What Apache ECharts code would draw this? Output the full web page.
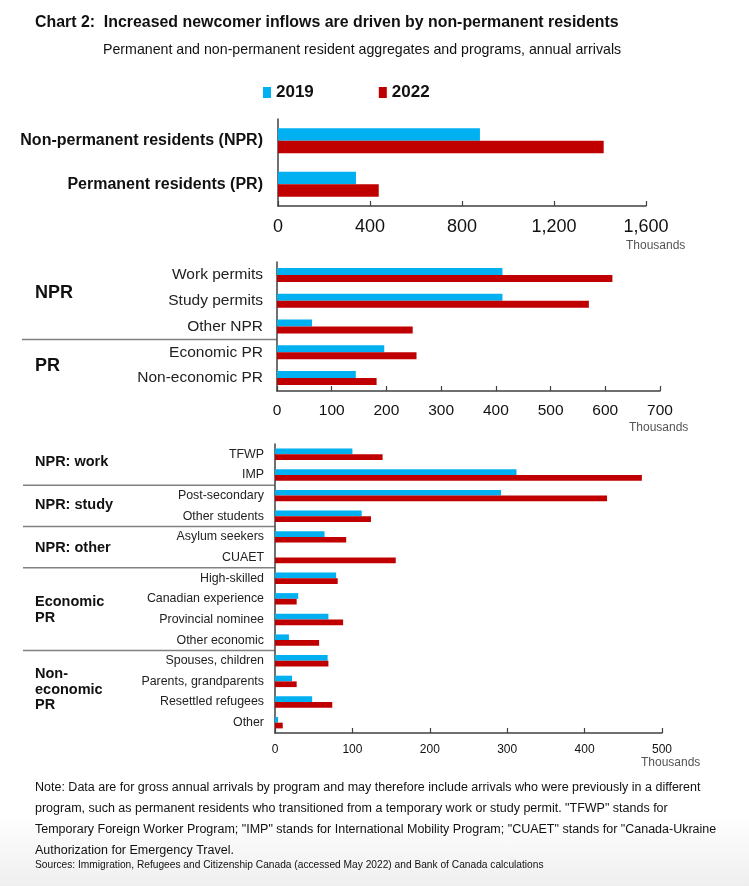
<!DOCTYPE html>
<html>
<head>
<meta charset="utf-8">
<script src="https://cdn.jsdelivr.net/npm/echarts@6/dist/echarts.min.js"></script>
<style>
  html, body { margin: 0; padding: 0; }
  body { width: 749px; height: 886px; background: linear-gradient(to bottom, #ffffff 0px, #ffffff 815px, #efefef 886px); }
  #chart { position: absolute; left: 0; top: 0; width: 749px; height: 886px; }
</style>
</head>
<body>
<div id="chart"></div>
<script>
// ---- Data (thousands of arrivals) ----
const seriesNames = ['2019', '2022'];

const topCategories = ['Non-permanent residents (NPR)', 'Permanent residents (PR)'];
const top2019 = [878, 339];
const top2022 = [1416, 438];
const topTicks = [0, 400, 800, 1200, 1600];

const midCategories = ['Work permits', 'Study permits', 'Other NPR', 'Economic PR', 'Non-economic PR'];
const mid2019 = [412, 412, 64, 196, 144];
const mid2022 = [613, 570, 248, 255, 182];
const midTicks = [0, 100, 200, 300, 400, 500, 600, 700];

const botCategories = ['TFWP', 'IMP', 'Post-secondary', 'Other students', 'Asylum seekers', 'CUAET',
  'High-skilled', 'Canadian experience', 'Provincial nominee', 'Other economic',
  'Spouses, children', 'Parents, grandparents', 'Resettled refugees', 'Other'];
const bot2019 = [100, 312, 292, 112, 64, 0, 79, 30, 69, 18, 68, 22, 48, 4];
const bot2022 = [139, 474, 429, 124, 92, 156, 81, 28, 88, 57, 69, 28, 74, 10];
const botTicks = [0, 100, 200, 300, 400, 500];

const midGroups = ['NPR', 'PR'];
const botGroups = ['NPR: work', 'NPR: study', 'NPR: other', 'Economic\nPR', 'Non-\neconomic\nPR'];
const midSeparatorsAfter = [2];          // line after category index
const botSeparatorsAfter = [1, 3, 5, 9];

const noteLines = [
  'Note: Data are for gross annual arrivals by program and may therefore include arrivals who were previously in a different',
  'program, such as permanent residents who transitioned from a temporary work or study permit. "TFWP" stands for',
  'Temporary Foreign Worker Program; "IMP" stands for International Mobility Program; "CUAET" stands for "Canada-Ukraine',
  'Authorization for Emergency Travel.'
];
const sourceText = 'Sources: Immigration, Refugees and Citizenship Canada (accessed May 2022) and Bank of Canada calculations';

// ---- Styling ----
const FONT = "'Liberation Sans', Arial, Helvetica, sans-serif";
const BLUE = '#00b0f0', RED = '#c00000', AXIS = '#404040';

const chart = echarts.init(document.getElementById('chart'), null, { renderer: 'canvas' });

function fmt(v) { return String(v).replace(/\B(?=(\d{3})+(?!\d))/g, ','); }

function xAxis(gi, ticks, fontSize, margin) {
  return {
    type: 'value', gridIndex: gi, min: ticks[0], max: ticks[ticks.length - 1],
    interval: ticks[1] - ticks[0],
    axisLine: { show: true, lineStyle: { color: AXIS, width: 1.5 } },
    axisTick: { show: true, inside: true, length: 5, lineStyle: { color: AXIS, width: 1.2 } },
    splitLine: { show: false },
    axisLabel: { formatter: fmt, fontSize: fontSize, color: '#111', fontFamily: FONT, margin: margin }
  };
}
function yAxis(gi, cats, fontSize, bold, margin, color) {
  return {
    type: 'category', gridIndex: gi, data: cats, inverse: true,
    axisLine: { show: true, lineStyle: { color: AXIS, width: 1.5 } },
    axisTick: { show: false },
    axisLabel: { fontSize: fontSize, fontWeight: bold ? 'bold' : 'normal', color: color,
      fontFamily: FONT, margin: margin, interval: 0 }
  };
}
function bars(gi, name, data, color, width) {
  return { type: 'bar', name: name, xAxisIndex: gi, yAxisIndex: gi, data: data,
    barWidth: width, barGap: '0%', itemStyle: { color: color }, silent: true, animation: false };
}

const texts = [];
// (x, y) = left edge and vertical centre of the first line
function txt(x, y, s, size, weight, color, lh) {
  const lineH = lh || Math.round(size * 1.2);
  texts.push({ type: 'text', x: x, y: y - lineH / 2, silent: true,
    style: { text: s, x: 0, y: 0, fontSize: size, fontWeight: weight || 'normal', fill: color || '#111',
      fontFamily: FONT, textAlign: 'left', textVerticalAlign: 'top', lineHeight: lineH } });
}

const option = {
  animation: false,
  textStyle: { fontFamily: FONT },
  grid: [
    { left: 278, width: 368, top: 119, height: 87 },
    { left: 277, width: 383, top: 262, height: 129 },
    { left: 275, width: 387, top: 444, height: 289 }
  ],
  legend: {
    data: seriesNames, left: 258, top: 79, icon: 'rect', itemWidth: 8, itemHeight: 11,
    itemGap: 65, selectedMode: false,
    textStyle: { fontSize: 17, fontWeight: 'bold', color: '#111', fontFamily: FONT }
  },
  xAxis: [xAxis(0, topTicks, 18, 12), xAxis(1, midTicks, 15.5, 12), xAxis(2, botTicks, 12, 11)],
  yAxis: [yAxis(0, topCategories, 16, true, 15, '#111'), yAxis(1, midCategories, 15.5, false, 14, '#222'),
          yAxis(2, botCategories, 12.4, false, 11, '#222')],
  series: [
    bars(0, '2019', top2019, BLUE, 12.5), bars(0, '2022', top2022, RED, 12.5),
    bars(1, '2019', mid2019, BLUE, 7), bars(1, '2022', mid2022, RED, 7),
    bars(2, '2019', bot2019, BLUE, 5.7), bars(2, '2022', bot2022, RED, 5.7)
  ]
};
chart.setOption(option);

// ---- Static text ----
txt(35, 23, 'Chart 2:  Increased newcomer inflows are driven by non-permanent residents', 15.9, 'bold', '#111');
txt(103, 50, 'Permanent and non-permanent resident aggregates and programs, annual arrivals', 14.2, 'normal', '#111');
txt(626, 246, 'Thousands', 12, 'normal', '#555');
txt(629, 428, 'Thousands', 12, 'normal', '#555');
txt(641, 763, 'Thousands', 12, 'normal', '#555');
[293, 366].forEach((y, i) => txt(35, y, midGroups[i], 18, 'bold', '#111'));
[462, 505, 548, 602, 674].forEach((y, i) => txt(35, y, botGroups[i], 14.5, 'bold', '#111', 15.7));
noteLines.forEach((l, i) => txt(35, 788 + i * 21, l, 12.5, 'normal', '#111'));
txt(35, 865, sourceText, 10.2, 'normal', '#111');

// ---- Separator lines between category groups (positioned via the axes) ----
const lines = [];
function sep(gi, afterIdx, cats, x0) {
  afterIdx.forEach(i => {
    const a = chart.convertToPixel({ yAxisIndex: gi }, cats[i]);
    const b = chart.convertToPixel({ yAxisIndex: gi }, cats[i + 1]);
    const ax = chart.convertToPixel({ xAxisIndex: gi }, 0);
    const y = (a + b) / 2;
    lines.push({ type: 'line', silent: true, shape: { x1: x0, y1: y, x2: ax, y2: y },
      style: { stroke: '#808080', lineWidth: 1.5 } });
  });
}
sep(1, midSeparatorsAfter, midCategories, 22);
sep(2, botSeparatorsAfter, botCategories, 23);

chart.setOption({ graphic: texts.concat(lines) });
</script>
</body>
</html>
